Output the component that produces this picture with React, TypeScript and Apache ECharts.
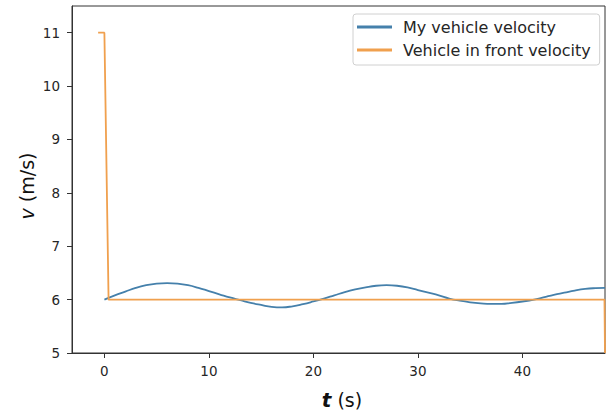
import React, { useEffect, useRef } from "react";
import * as echarts from "echarts";

const blueT = [0, 1, 2, 3, 4, 5, 6, 7, 8, 9, 10, 11, 12, 13, 14, 15, 16, 17, 18, 19, 20, 21, 22, 23, 24, 25, 26, 27, 28, 29, 30, 31, 32, 33, 34, 35, 36, 37, 38, 39, 40, 41, 42, 43, 44, 45, 46, 47, 47.9];
const blueV = [6.0, 6.08, 6.15, 6.22, 6.27, 6.3, 6.31, 6.3, 6.27, 6.22, 6.16, 6.1, 6.04, 5.99, 5.94, 5.9, 5.865, 5.855, 5.875, 5.915, 5.965, 6.02, 6.08, 6.14, 6.19, 6.23, 6.26, 6.27, 6.26, 6.23, 6.18, 6.13, 6.08, 6.02, 5.98, 5.95, 5.93, 5.92, 5.92, 5.94, 5.965, 5.995, 6.04, 6.09, 6.13, 6.17, 6.2, 6.215, 6.22];
const orangeT = [-0.6, 0, 0.4, 47.85, 47.9];
const orangeV = [11, 11, 6, 6, 5];
const xTicks = [0, 10, 20, 30, 40];
const yTicks = [5, 6, 7, 8, 9, 10, 11];
const seriesNames = ["My vehicle velocity", "Vehicle in front velocity"];

export default function App() {
  const ref = useRef<HTMLDivElement>(null);
  useEffect(() => {
    if (!ref.current) return;
    const chart = echarts.init(ref.current, null, { renderer: "svg" });
    const font = "DejaVu Sans";
    const txt = "#262626";
    chart.setOption({
      animation: false,
      backgroundColor: "#ffffff",
      grid: { left: 72, right: 2, top: 6, bottom: 64, show: true, borderColor: "#333", borderWidth: 1, backgroundColor: "transparent" },
      xAxis: {
        type: "value",
        min: -3.1,
        max: 47.9,
        axisLine: { show: true, onZero: false, lineStyle: { color: "#333", width: 1 } },
        axisTick: { show: true, length: 5, lineStyle: { color: "#333" }, customValues: xTicks },
        axisLabel: { customValues: xTicks, color: txt, fontFamily: font, fontSize: 13.5, margin: 11 },
        splitLine: { show: false },
      },
      yAxis: {
        type: "value",
        min: 5,
        max: 11.5,
        axisLine: { show: true, onZero: false, lineStyle: { color: "#333", width: 1 } },
        axisTick: { show: true, length: 5, lineStyle: { color: "#333" }, customValues: yTicks },
        axisLabel: { customValues: yTicks, color: txt, fontFamily: font, fontSize: 13.5, margin: 12 },
        splitLine: { show: false },
      },
      legend: {
        orient: "vertical",
        left: 353,
        top: 14,
        padding: [5, 9, 7, 4],
        itemGap: 7,
        itemWidth: 35,
        itemHeight: 3,
        icon: "rect",
        borderColor: "#d0d0d0",
        borderWidth: 1,
        borderRadius: 3,
        backgroundColor: "#ffffff",
        textStyle: { color: txt, fontFamily: font, fontSize: 16, padding: [0, 0, 0, 6] },
        data: seriesNames,
      },
      graphic: [
        {
          type: "text",
          x: 27,
          y: 186,
          rotation: Math.PI / 2,
          style: {
            text: "{i|v} (m/s)",
            fill: "#111",
            font: `19px "${font}"`,
            align: "center",
            verticalAlign: "middle",
            rich: { i: { fontStyle: "italic", fontSize: 19, fontFamily: font, fill: "#111" } },
          },
        },
        {
          type: "text",
          x: 342,
          y: 400,
          style: {
            text: "{i|t} (s)",
            fill: "#111",
            font: `19px "${font}"`,
            align: "center",
            verticalAlign: "middle",
            rich: { i: { fontStyle: "italic", fontWeight: "bold", fontSize: 20, fontFamily: font, fill: "#111" } },
          },
        },
      ],
      series: [
        {
          name: seriesNames[0],
          type: "line",
          data: blueT.map((t, i) => [t, blueV[i]]),
          showSymbol: false,
          smooth: true,
          lineStyle: { color: "#4580ab", width: 1.8 },
          itemStyle: { color: "#4580ab" },
        },
        {
          name: seriesNames[1],
          type: "line",
          data: orangeT.map((t, i) => [t, orangeV[i]]),
          showSymbol: false,
          lineStyle: { color: "#f0a04e", width: 1.8 },
          itemStyle: { color: "#f0a04e" },
        },
      ],
    });
    return () => chart.dispose();
  }, []);
  return <div ref={ref} style={{ width: 607, height: 417, position: "absolute", left: 0, top: 0 }} />;
}
